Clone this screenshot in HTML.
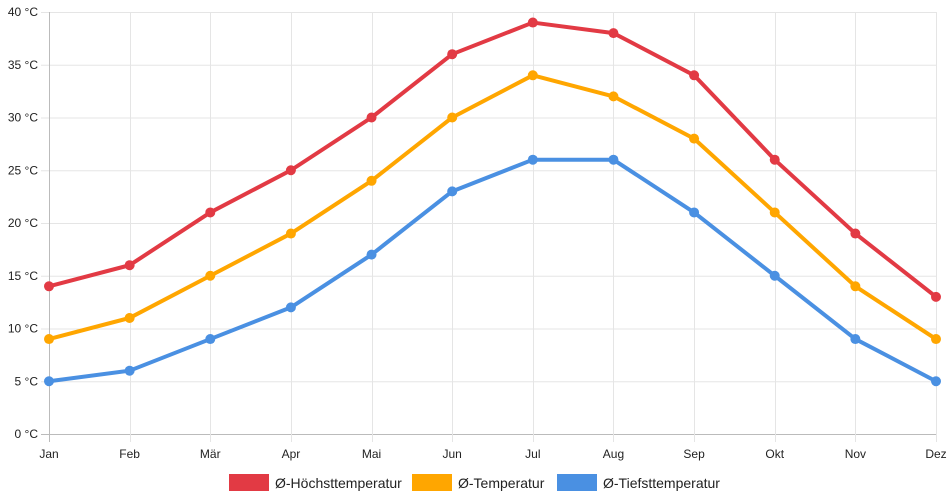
<!DOCTYPE html>
<html><head><meta charset="utf-8"><style>
body{margin:0;background:#fff;font-family:"Liberation Sans",sans-serif;}
svg{display:block}
</style></head><body>
<svg id="chart" width="952" height="500" font-family="Liberation Sans, sans-serif">
<g id="grid"></g>
<g id="axes"></g>
<g id="series"></g>
<g id="legend"></g>
</svg>
<script>
const months=["Jan","Feb","Mär","Apr","Mai","Jun","Jul","Aug","Sep","Okt","Nov","Dez"];
const highTemps=[14,16,21,25,30,36,39,38,34,26,19,13];
const meanTemps=[9,11,15,19,24,30,34,32,28,21,14,9];
const lowTemps=[5,6,9,12,17,23,26,26,21,15,9,5];
const yTicks=[0,5,10,15,20,25,30,35,40];
const seriesNames=["Ø-Höchsttemperatur","Ø-Temperatur","Ø-Tiefsttemperatur"];
const NS="http://www.w3.org/2000/svg";
const x0=49,x1=936,y0=434,y1=12;
const xs=i=>x0+(x1-x0)*i/(months.length-1);
const ys=v=>y0-(y0-y1)*v/40;
function mk(t,a,p){const e=document.createElementNS(NS,t);for(const k in a)e.setAttribute(k,a[k]);p.appendChild(e);return e;}
const grid=document.getElementById('grid'),axes=document.getElementById('axes'),ser=document.getElementById('series'),leg=document.getElementById('legend');
yTicks.forEach(v=>{
 const l=mk('line',{x1:x0-8,x2:x1,y1:ys(v)+0.5,y2:ys(v)+0.5,stroke:v===0?'#bbb':'#e5e5e5','stroke-width':1},grid);
 
 
 const t=mk('text',{x:38,y:ys(v)+4,'text-anchor':'end','font-size':12,fill:'#222'},axes);
 t.textContent=v+' °C';
 
 
});
months.forEach((m,i)=>{
 const l=mk('line',{x1:Math.round(xs(i))+0.5,x2:Math.round(xs(i))+0.5,y1:y1,y2:y0+8,stroke:i===0?'#bbb':'#e5e5e5','stroke-width':1},grid);
 
 
 const t=mk('text',{x:xs(i),y:458,'text-anchor':'middle','font-size':12,fill:'#222'},axes);
 t.textContent=m;
 
 
});
const colors=["#e23a44","#ffa600","#4a90e2"];
[highTemps,meanTemps,lowTemps].forEach((d,si)=>{
 const p=mk('polyline',{points:d.map((v,i)=>xs(i)+','+ys(v)).join(' '),fill:'none',stroke:colors[si],'stroke-width':4,'stroke-linejoin':'round'},ser);
 
 
 d.forEach((v,i)=>{
  const c=mk('circle',{cx:xs(i),cy:ys(v),r:5,fill:colors[si]},ser);
  
  
 });
});
const lx=[229,412,557];
seriesNames.forEach((n,i)=>{
 const g=mk('g',{},leg);
 
 
 mk('rect',{x:lx[i],y:474,width:40,height:17,fill:colors[i]},g);
 const t=mk('text',{x:lx[i]+46,y:488,'font-size':14,fill:'#222'},g);
 t.textContent=n;
});
</script>
</body></html>
